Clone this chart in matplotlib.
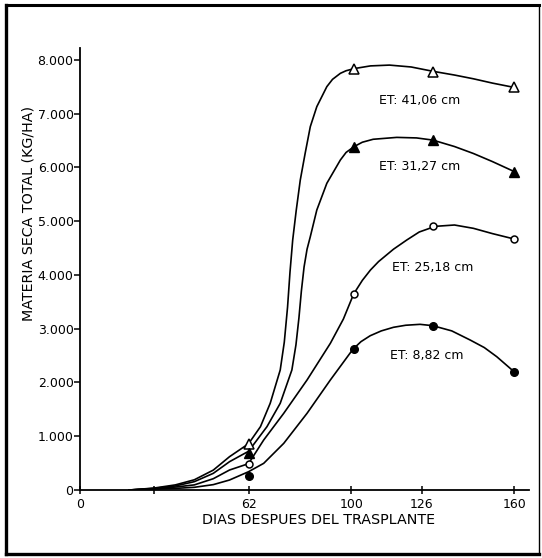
import matplotlib
matplotlib.use("Agg")
import matplotlib.pyplot as plt
from matplotlib.lines import Line2D


DAYS = [62, 101, 130, 160]

ET_LABELS = ["ET: 41,06 cm", "ET: 31,27 cm", "ET: 25,18 cm", "ET: 8,82 cm"]

# materia seca total medida (kg/ha)
MS_4106 = [850, 7830, 7780, 7490]
MS_3127 = [690, 6380, 6510, 5925]
MS_2518 = [485, 3645, 4915, 4670]
MS_882 = [265, 2615, 3055, 2200]

# puntos leidos sobre las curvas dibujadas a mano
CURVE_X_4106 = [18, 27, 35, 42, 49, 55, 62, 66.4, 70, 73.7, 75.2, 76.4, 77.3, 78.3,
                79.6, 81.1, 82.9, 84.8, 87.2, 90.9, 93, 95.9, 98, 101, 107, 114, 122,
                130, 138, 145, 152, 160]
CURVE_Y_4106 = [0, 35, 95, 190, 370, 620, 860, 1178, 1613, 2233, 2750, 3400, 4050, 4650,
                5200, 5767, 6264, 6760, 7132, 7504, 7640, 7752, 7800, 7840, 7890, 7905,
                7870, 7790, 7720, 7650, 7570, 7490]

CURVE_X_3127 = [18, 27, 35, 42, 49, 55, 62, 68.8, 73.7, 78, 79.5, 80.6, 81.5, 82.5,
                83.6, 84.8, 87.2, 90.9, 95.9, 98, 101, 104, 108, 116.7, 124, 130, 138,
                145, 152, 160]
CURVE_Y_3127 = [0, 30, 75, 155, 310, 527, 720, 1178, 1613, 2233, 2700, 3200, 3700, 4150,
                4480, 4713, 5209, 5706, 6140, 6280, 6390, 6470, 6525, 6560, 6550, 6510,
                6390, 6260, 6110, 5925]

CURVE_X_2518 = [18, 27, 35, 42, 49, 55, 62, 67.6, 75, 83.6, 92.2, 97, 100.8, 104, 107,
                110, 115.5, 120.4, 125, 130.9, 138, 145, 152, 160]
CURVE_Y_2518 = [0, 25, 55, 95, 210, 372, 490, 930, 1427, 2047, 2729, 3180, 3647, 3900,
                4093, 4250, 4480, 4651, 4800, 4905, 4930, 4868, 4770, 4670]

CURVE_X_882 = [18, 27, 35, 42, 49, 55, 62, 67.6, 75, 83.6, 92.2, 100.5, 103.5, 106.9,
               111, 115.5, 120, 125.3, 130, 137, 143.8, 149, 153.6, 160]
CURVE_Y_882 = [0, 15, 30, 50, 100, 186, 340, 496, 868, 1427, 2047, 2617, 2760, 2870,
               2960, 3027, 3065, 3082, 3057, 2960, 2790, 2650, 2480, 2200]

X_TICKS = [0, 27, 62, 100, 126, 160]
X_TICK_LABELS = ["0", "", "62", "100", "126", "160"]
Y_TICKS = [0, 1000, 2000, 3000, 4000, 5000, 6000, 7000, 8000]
Y_TICK_LABELS = ["0", "1.000", "2.000", "3.000", "4.000", "5.000", "6.000", "7.000", "8.000"]


def main():
    plt.rcParams["font.family"] = "DejaVu Sans"

    fig = plt.figure(figsize=(5.42, 5.58), dpi=100)
    ax = fig.add_axes([80.5 / 542, 1 - 490 / 558, (529 - 80.5) / 542, (490 - 48) / 558])

    curves = [
        (CURVE_X_4106, CURVE_Y_4106),
        (CURVE_X_3127, CURVE_Y_3127),
        (CURVE_X_2518, CURVE_Y_2518),
        (CURVE_X_882, CURVE_Y_882),
    ]
    for cx, cy in curves:
        ax.plot(cx, cy, color="black", lw=1.2, solid_joinstyle="round", zorder=2)

    # marcadores
    ax.plot(DAYS, MS_4106, ls="none", marker="^", ms=6.5, mfc="white", mec="black", mew=1.1, zorder=3)
    ax.plot(DAYS, MS_3127, ls="none", marker="^", ms=6.5, mfc="black", mec="black", zorder=3)
    ax.plot(DAYS, MS_2518, ls="none", marker="o", ms=5, mfc="white", mec="black", mew=1.1, zorder=3)
    ax.plot(DAYS, MS_882, ls="none", marker="o", ms=5.5, mfc="black", mec="black", zorder=3)

    label_pos = [(125.3, 7237), (125, 6015), (130.1, 4136), (127.9, 2493)]
    for (lx, ly), txt in zip(label_pos, ET_LABELS):
        ax.text(lx, ly, txt, ha="center", va="center", fontsize=9)

    ax.set_xlim(0, 165.5)
    ax.set_ylim(0, 8223)
    ax.set_xticks(X_TICKS)
    ax.set_xticklabels(X_TICK_LABELS, fontsize=9)
    ax.set_yticks(Y_TICKS)
    ax.set_yticklabels(Y_TICK_LABELS, fontsize=9)
    ax.tick_params(axis="x", direction="inout", length=6, width=1.1, pad=3)
    ax.tick_params(axis="y", direction="out", length=4, width=1.1, pad=1)

    for side in ["top", "right"]:
        ax.spines[side].set_visible(False)
    for side in ["left", "bottom"]:
        ax.spines[side].set_linewidth(1.3)

    ax.set_xlabel("DIAS DESPUES DEL TRASPLANTE", fontsize=10.3)
    ax.set_ylabel("MATERIA SECA TOTAL (KG/HA)", fontsize=10.3)
    ax.xaxis.set_label_coords(0.53, -0.053)
    ax.yaxis.set_label_coords(-0.1, 0.625)

    # marco exterior de la figura escaneada
    W, H = 542, 558
    fig.add_artist(Line2D([6 / W, 6 / W], [1 - 5 / H, 1 - 554 / H], color="black", lw=2.4))
    fig.add_artist(Line2D([6 / W, 539 / W], [1 - 554 / H, 1 - 554 / H], color="black", lw=2.4))
    fig.add_artist(Line2D([6 / W, 539 / W], [1 - 5 / H, 1 - 5 / H], color="black", lw=2.2))
    fig.add_artist(Line2D([539 / W, 539 / W], [1 - 5 / H, 1 - 554 / H], color="black", lw=1.0))

    fig.savefig("out.png", dpi=100)
    plt.close(fig)


if __name__ == "__main__":
    main()
